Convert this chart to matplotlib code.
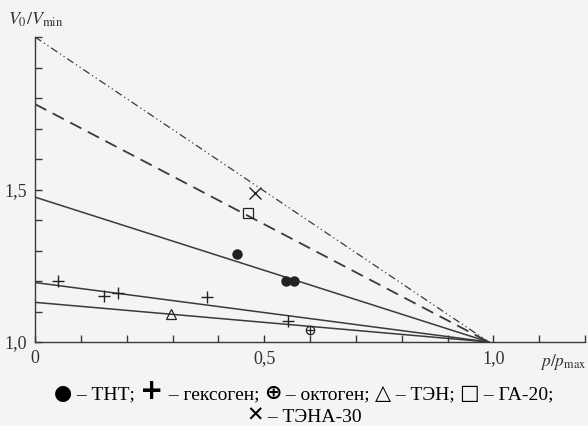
import matplotlib
matplotlib.use("Agg")
import matplotlib.pyplot as plt
import numpy as np

# fitted lines: value at p/pmax = 0, all converge to 1.0 at p_end
solid_starts = [1.475, 1.195, 1.13]
dashed_start = 1.78
dashdot_start = 2.0
p_end = 0.99

tnt_x = [0.44, 0.548, 0.566]; tnt_y = [1.29, 1.20, 1.20]
hex_x = [0.05, 0.15, 0.18, 0.375, 0.551]; hex_y = [1.20, 1.15, 1.16, 1.148, 1.07]
okt_x = [0.60]; okt_y = [1.04]
ten_x = [0.297]; ten_y = [1.092]
ga_x = [0.464]; ga_y = [1.422]
tena_x = [0.48]; tena_y = [1.49]

xtick_vals = [0, 0.5, 1.0]
xtick_labels = ["0", "0,5", "1,0"]
ytick_vals = [1.0, 1.5]
ytick_labels = ["1,0", "1,5"]

legend_line1 = [("●", "sym"), (" – ТНТ; ", "txt"), ("+", "plus"), (" – гексоген; ", "txt"),
                ("⊕", "sym"), (" – октоген; ", "txt"), ("△", "sym"), (" – ТЭН; ", "txt"),
                ("□", "sym"), (" – ГА-20;", "txt")]
legend_line2 = [("✕", "sym"), (" – ТЭНА-30", "txt")]

plt.rcParams['font.family'] = ['Liberation Serif', 'DejaVu Sans']
bg = '#f4f4f2'
lc = '#3a3a3a'

fig = plt.figure(figsize=(5.88, 4.26), dpi=100, facecolor=bg)
ax = fig.add_axes([35/588, 1-342/426, 550/588, 305/426], facecolor=bg)

xs = [0, p_end]
for s in solid_starts:
    ax.plot(xs, [s, 1.0], color=lc, lw=1.1)
ax.plot(xs, [dashed_start, 1.0], color=lc, lw=1.3, dashes=(7, 4))
ax.plot(xs, [dashdot_start, 1.0], color=lc, lw=0.9, dashes=(6, 2.5, 1, 2.5, 1, 2.5))

ax.plot(tnt_x, tnt_y, 'o', color='#222', ms=6.5, ls='none')
ax.plot(hex_x, hex_y, '+', color='#222', ms=8, mew=1.0, ls='none')
ax.plot(okt_x, okt_y, 'o', mfc='none', mec='#222', ms=6, mew=0.9, ls='none')
ax.plot(okt_x, okt_y, '+', color='#222', ms=6, mew=0.9, ls='none')
ax.plot(ten_x, ten_y, '^', mfc='none', mec='#222', ms=7, mew=0.9, ls='none')
ax.plot(ga_x, ga_y, 's', mfc='none', mec='#222', ms=7, mew=0.9, ls='none')
ax.plot(tena_x, tena_y, 'x', color='#222', ms=8, mew=1.0, ls='none')

ax.set_xlim(0, 1.2)
ax.set_ylim(1.0, 2.0)
for s in ['top', 'right']:
    ax.spines[s].set_visible(False)
for s in ['left', 'bottom']:
    ax.spines[s].set_color(lc)
    ax.spines[s].set_linewidth(1.0)

ax.set_xticks(np.arange(0, 1.21, 0.1), minor=True)
ax.set_yticks(np.arange(1.0, 2.01, 0.1), minor=True)
ax.set_xticks(xtick_vals)
ax.set_xticklabels(xtick_labels)
ax.set_yticks(ytick_vals)
ax.set_yticklabels(ytick_labels)
ax.tick_params(which='both', direction='in', length=5, color=lc, width=1.0)
ax.tick_params(which='major', labelsize=13, colors='#333', pad=6)

fig.text(540/588, 1-362/426, r'$p/p_{\mathrm{max}}$', fontsize=12.5, color='#333',
         ha='left', va='center', math_fontfamily='stix')
fig.text(8/588, 1-20/426, r'$V_0/V_{\mathrm{min}}$', fontsize=13, color='#333',
         ha='left', va='center', math_fontfamily='stix')

# legend drawn as text segments
styles = {
    "txt": dict(family='Liberation Serif', fontsize=14),
    "sym": dict(family=['DejaVu Sans'], fontsize=15, fontweight='bold'),
    "plus": dict(family=['DejaVu Sans'], fontsize=20, fontweight='bold'),
}
fig.canvas.draw()
renderer = fig.canvas.get_renderer()


def draw_line(segs, y_px, shift):
    texts = []
    for s, kind in segs:
        t = fig.text(0, 1 - y_px/426, s, ha='left', va='baseline', color='#000', **styles[kind])
        texts.append(t)
    widths = [t.get_window_extent(renderer).width for t in texts]
    total = sum(widths)
    x = (588 - total) / 2 + shift
    for t, w in zip(texts, widths):
        t.set_x(x / 588)
        x += w


draw_line(legend_line1, 399, 10)
draw_line(legend_line2, 422, 10)

fig.savefig('out.png', dpi=100, facecolor=bg)
